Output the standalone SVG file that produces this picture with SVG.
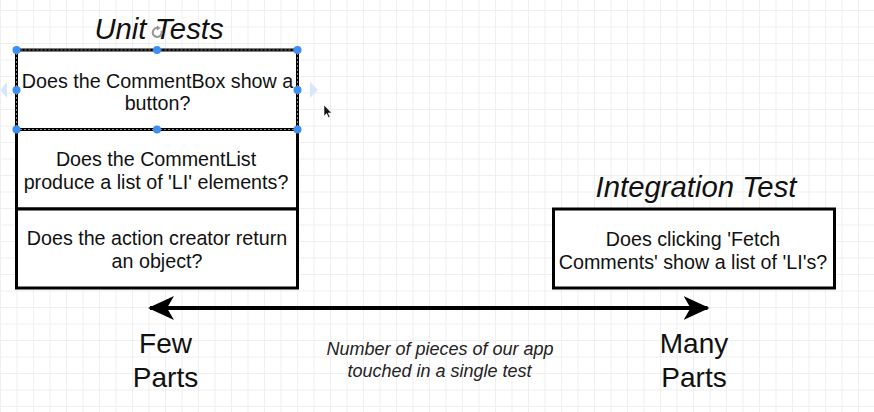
<svg xmlns="http://www.w3.org/2000/svg" width="874" height="412" viewBox="0 0 874 412">
  <defs>
    <pattern id="grid" patternUnits="userSpaceOnUse" x="0" y="10" width="16.5" height="16.5">
      <path d="M0.5,0 V16.5 M0,0.5 H16.5" fill="none" stroke="#efefef" stroke-width="1"/>
    </pattern>
    <marker id="head" viewBox="0 0 26 24" refX="24" refY="12" markerWidth="26" markerHeight="24" markerUnits="userSpaceOnUse" orient="auto-start-reverse">
      <path d="M0,0 L26,12 L0,24 L7,12 Z" fill="#000"/>
    </marker>
    <style>
      .box { fill: #fff; stroke: #000; stroke-width: 3; }
      .txt { font-family: "Liberation Sans", Arial, Helvetica, sans-serif; font-size: 19.7px; fill: #111; text-anchor: middle; }
      .title { font-family: "Liberation Sans", Arial, Helvetica, sans-serif; font-size: 29.3px; font-style: italic; fill: #111; text-anchor: middle; }
      .big { font-family: "Liberation Sans", Arial, Helvetica, sans-serif; font-size: 28px; fill: #111; text-anchor: middle; }
      .cap { font-family: "Liberation Sans", Arial, Helvetica, sans-serif; font-size: 18px; font-style: italic; fill: #222; text-anchor: middle; }
      .handle { fill: #3d8ef5; }
      .hint { fill: #d8e6fc; }
    </style>
  </defs>

  <!-- canvas grid -->
  <rect width="874" height="412" fill="#fff"/>
  <rect width="874" height="412" fill="url(#grid)"/>

  <!-- unit test column -->
  <g id="title-unit">
    <text class="title" x="159" y="39">Unit Tests</text>
  </g>
  <g id="box-commentbox">
    <rect class="box" x="16.5" y="50" width="281" height="79.5"/>
    <text class="txt" x="157.5" y="88">Does the CommentBox show a</text>
    <text class="txt" x="157.5" y="110">button?</text>
  </g>
  <g id="box-commentlist">
    <rect class="box" x="16.5" y="129.5" width="281" height="79.5"/>
    <text class="txt" x="156" y="166">Does the CommentList</text>
    <text class="txt" x="156" y="189">produce a list of 'LI' elements?</text>
  </g>
  <g id="box-action">
    <rect class="box" x="16.5" y="209" width="281" height="79"/>
    <text class="txt" x="157" y="245">Does the action creator return</text>
    <text class="txt" x="157" y="268">an object?</text>
  </g>

  <!-- integration test -->
  <g id="title-integration">
    <text class="title" x="696" y="197">Integration Test</text>
  </g>
  <g id="box-integration">
    <rect class="box" x="553.5" y="209" width="281" height="79"/>
    <text class="txt" x="693" y="246">Does clicking 'Fetch</text>
    <text class="txt" x="693" y="268.5">Comments' show a list of 'LI's?</text>
  </g>

  <!-- scale axis -->
  <g id="connectors">
    <line x1="150" y1="308" x2="707.5" y2="308" stroke="#000" stroke-width="4" marker-start="url(#head)" marker-end="url(#head)"/>
  </g>
  <g id="label-few">
    <text class="big" x="165.5" y="353">Few</text>
    <text class="big" x="165.5" y="387">Parts</text>
  </g>
  <g id="label-many">
    <text class="big" x="694" y="353">Many</text>
    <text class="big" x="694" y="387">Parts</text>
  </g>
  <g id="caption">
    <text class="cap" x="440" y="355">Number of pieces of our app</text>
    <text class="cap" x="439.5" y="376.5">touched in a single test</text>
  </g>

  <!-- editor selection overlay on the first box -->
  <g id="selection">
    <rect x="16.5" y="50" width="281" height="79.5" fill="none" stroke="#fff" stroke-width="1" stroke-dasharray="2 2" opacity="0.55"/>
    <polygon class="hint" points="0.5,90 7,82 7,98"/>
    <polygon class="hint" points="318,90 310,82 310,98"/>
    <circle class="handle" cx="16.5" cy="50" r="4"/>
    <circle class="handle" cx="157" cy="50" r="4"/>
    <circle class="handle" cx="297.5" cy="50" r="4"/>
    <circle class="handle" cx="16.5" cy="90" r="4"/>
    <circle class="handle" cx="297.5" cy="90" r="4"/>
    <circle class="handle" cx="16.5" cy="129.5" r="4"/>
    <circle class="handle" cx="157" cy="129.5" r="4"/>
    <circle class="handle" cx="297.5" cy="129.5" r="4"/>
    <!-- rotate handle -->
    <path d="M161.5,31 A4.5,4.5 0 1 1 158,28" fill="none" stroke="#8a8a8a" stroke-width="2.2" opacity="0.85"/>
    <path d="M157,25.5 L160.5,28 L157,30.5 Z" fill="#8a8a8a" opacity="0.85"/>
  </g>

  <!-- mouse pointer -->
  <g id="pointer">
    <path d="M324,105 L324,116 L326.6,113.6 L328.4,117.6 L330,116.9 L328.2,113 L331.6,113 Z" fill="#111" stroke="#fff" stroke-width="0.6"/>
  </g>
</svg>
